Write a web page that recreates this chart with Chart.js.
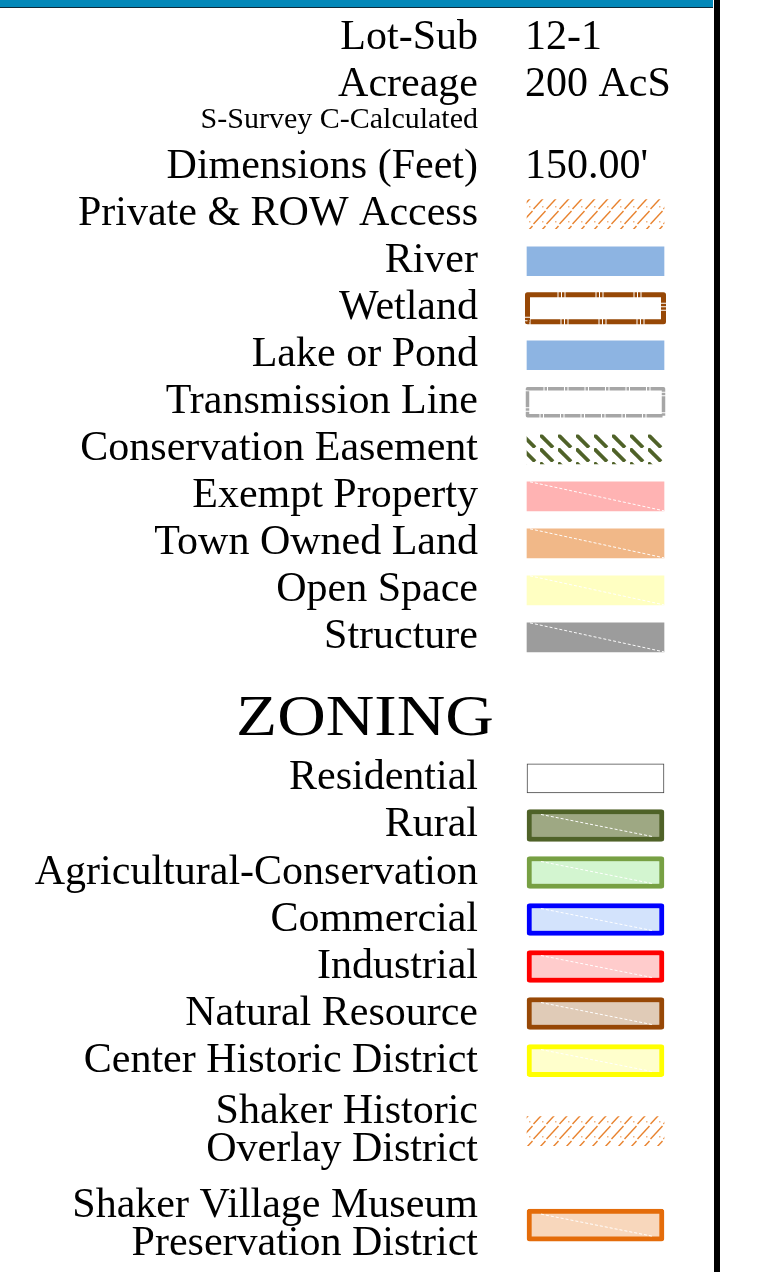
<!DOCTYPE html>
<html>
<head>
<meta charset="utf-8">
<script src="https://cdn.jsdelivr.net/npm/chart.js@4.4.1/dist/chart.umd.min.js"></script>
<style>
  html, body { margin: 0; padding: 0; background: #fff; }
  #wrap { position: relative; width: 762px; height: 1272px; overflow: hidden; }
  #c { position: absolute; left: 0; top: 0; }
  #topbar { position: absolute; left: 0; top: 0; width: 713px; height: 7px; background: #0388B9; border-bottom: 1px solid #0d2a3a; }
  #rightline { position: absolute; left: 714px; top: 0; width: 6px; height: 1272px; background: #000; }
</style>
</head>
<body>
<div id="wrap">
  <canvas id="c" width="762" height="1272"></canvas>
  <div id="topbar"></div>
  <div id="rightline"></div>
</div>
<script>
// ---------- DATA ----------
const gap = n => Array(n).fill('');

// legend rows (categories); '' entries are empty spacer rows
const categories = [
  'Lot-Sub', ...gap(3),
  'Acreage', ...gap(2),
  'S-Survey C-Calculated', ...gap(3),
  'Dimensions (Feet)', ...gap(3),
  'Private & ROW Access', ...gap(3),
  'River', ...gap(3),
  'Wetland', ...gap(3),
  'Lake or Pond', ...gap(3),
  'Transmission Line', ...gap(3),
  'Conservation Easement', ...gap(3),
  'Exempt Property', ...gap(3),
  'Town Owned Land', ...gap(3),
  'Open Space', ...gap(3),
  'Structure', ...gap(6),
  'ZONING', ...gap(4),
  'Residential', ...gap(3),
  'Rural', ...gap(3),
  'Agricultural-Conservation', ...gap(3),
  'Commercial', ...gap(3),
  'Industrial', ...gap(3),
  'Natural Resource', ...gap(3),
  'Center Historic District', ...gap(5),
  'Shaker Historic\nOverlay District', ...gap(7),
  'Shaker Village Museum\nPreservation District'
];

// text values shown in the right column
const valueRows  = ['Lot-Sub', 'Acreage', 'Dimensions (Feet)'];
const valueTexts = ['12-1', '200 AcS', "150.00'"];

// swatch rows (drawn as bars spanning 0..1)
const plainRows = ['Private & ROW Access', 'River', 'Wetland', 'Lake or Pond', 'Transmission Line',
  'Conservation Easement', 'Exempt Property', 'Town Owned Land', 'Open Space', 'Structure',
  'Residential', 'Shaker Historic\nOverlay District'];
const zoneRows = ['Rural', 'Agricultural-Conservation', 'Commercial', 'Industrial',
  'Natural Resource', 'Center Historic District', 'Shaker Village Museum\nPreservation District'];
const swatchSpan = [0, 1];

const headingRow = 'ZONING';
const smallRows = ['S-Survey C-Calculated'];

// ---------- STYLES ----------
const SERIF = "'Liberation Serif', 'Times New Roman', Times, serif";
const mainCtx = document.getElementById('c').getContext('2d');

function hatchPattern(color) {
  const t = document.createElement('canvas');
  t.width = 13; t.height = 15;
  const g = t.getContext('2d');
  g.strokeStyle = color; g.lineWidth = 1.4;
  g.beginPath(); g.moveTo(0.5, 14); g.lineTo(12.5, 1); g.stroke();
  g.fillStyle = color; g.globalAlpha = 0.6;
  g.fillRect(9, 11, 1.5, 1.5);
  return mainCtx.createPattern(t, 'repeat');
}
function easementPattern(color) {
  const t = document.createElement('canvas');
  t.width = 18; t.height = 14;
  const g = t.getContext('2d');
  g.strokeStyle = color; g.lineWidth = 3.8;
  g.beginPath(); g.moveTo(0, 0.5); g.lineTo(13, 13.5); g.stroke();
  return mainCtx.createPattern(t, 'repeat');
}

const fillColors = {
  'Private & ROW Access': hatchPattern('#E8822E'),
  'River': '#8DB4E2',
  'Wetland': '#FFFFFF',
  'Lake or Pond': '#8DB4E2',
  'Transmission Line': '#FFFFFF',
  'Conservation Easement': easementPattern('#4F6228'),
  'Exempt Property': '#FFB3B3',
  'Town Owned Land': '#F1B888',
  'Open Space': '#FFFFC2',
  'Structure': '#9C9C9C',
  'Residential': '#FFFFFF',
  'Shaker Historic\nOverlay District': hatchPattern('#E8822E'),
  'Rural': '#9EA883',
  'Agricultural-Conservation': '#D3F5D0',
  'Commercial': '#D3E3FC',
  'Industrial': '#FFCCCC',
  'Natural Resource': '#E0CBB7',
  'Center Historic District': '#FFFFCC',
  'Shaker Village Museum\nPreservation District': '#F8D7BC'
};
const borderColors = {
  'Residential': '#444444',
  'Rural': '#4F6228',
  'Agricultural-Conservation': '#77A043',
  'Commercial': '#0000FF',
  'Industrial': '#FF0000',
  'Natural Resource': '#974806',
  'Center Historic District': '#FFFF00',
  'Shaker Village Museum\nPreservation District': '#E46C0A'
};
const dashedBorders = {
  'Wetland': { color: '#974806', width: 5, dash: [30, 1, 2.5, 1, 2.5, 1] },
  'Transmission Line': { color: '#A6A6A6', width: 3.5, dash: [16, 1, 2.5, 1] }
};
const diagRows = ['Exempt Property', 'Town Owned Land', 'Open Space', 'Structure',
  'Rural', 'Agricultural-Conservation', 'Commercial', 'Industrial',
  'Natural Resource', 'Center Historic District', 'Shaker Village Museum\nPreservation District'];

// ---------- PLUGINS ----------
const extras = {
  id: 'extras',
  afterDatasetsDraw(chart) {
    const ctx = chart.ctx;
    chart.data.datasets.forEach((ds, di) => {
      const meta = chart.getDatasetMeta(di);
      meta.data.forEach((bar, i) => {
        if (ds.data[i] == null) return;
        const name = categories[i];
        const p = bar.getProps(['x', 'y', 'base', 'height'], true);
        const left = Math.min(p.base, p.x), right = Math.max(p.base, p.x);
        const top = p.y - p.height / 2, bottom = p.y + p.height / 2;
        if (diagRows.includes(name)) {
          const isZone = zoneRows.includes(name);
          const inset = isZone ? 5 : 0;
          ctx.save();
          ctx.strokeStyle = 'rgba(255,255,255,0.95)';
          ctx.lineWidth = 1;
          ctx.setLineDash([3, 2]);
          ctx.beginPath();
          ctx.moveTo(left + (isZone ? 14 : 3), top + inset);
          ctx.lineTo(right - (isZone ? 12 : 0), bottom - inset);
          ctx.stroke();
          ctx.restore();
        }
        const db = dashedBorders[name];
        if (db) {
          ctx.save();
          ctx.strokeStyle = db.color;
          ctx.lineWidth = db.width;
          ctx.setLineDash(db.dash);
          ctx.lineJoin = 'round';
          ctx.strokeRect(left + 0.5, top + 1, right - left - 1, bottom - top - 2);
          ctx.restore();
        }
      });
    });
  },
  afterDraw(chart) {
    const ctx = chart.ctx;
    const y = chart.scales.y, x = chart.scales.x;
    ctx.save();
    ctx.fillStyle = '#000';
    ctx.textBaseline = 'middle';
    ctx.textAlign = 'left';
    ctx.font = '42px ' + SERIF;
    valueRows.forEach((r, k) => {
      const idx = categories.indexOf(r);
      ctx.fillText(valueTexts[k], x.getPixelForValue(0) - 2, y.getPixelForTick(idx));
    });
    // heading
    const hi = categories.indexOf(headingRow);
    const hy = y.getPixelForTick(hi);
    ctx.translate(x.getPixelForValue(0) - 162, hy);
    ctx.scale(1.18, 1);
    ctx.textAlign = 'center';
    ctx.font = '57px ' + SERIF;
    ctx.fillText(headingRow, 0, 0);
    ctx.restore();
  }
};

// ---------- CHART ----------
const plainData = categories.map(c => plainRows.includes(c) ? swatchSpan : null);
const zoneData = categories.map(c => zoneRows.includes(c) ? swatchSpan : null);

new Chart(mainCtx, {
  type: 'bar',
  data: {
    labels: categories,
    datasets: [
      {
        label: 'Legend swatches',
        data: plainData,
        grouped: false,
        clip: false,
        barThickness: 29,
        backgroundColor: c => fillColors[categories[c.dataIndex]] || 'transparent',
        borderColor: c => borderColors[categories[c.dataIndex]] || 'transparent',
        borderWidth: c => borderColors[categories[c.dataIndex]] ? 1 : 0,
        borderSkipped: false
      },
      {
        label: 'Zoning swatches',
        data: zoneData,
        grouped: false,
        clip: false,
        barThickness: 32,
        backgroundColor: c => fillColors[categories[c.dataIndex]] || 'transparent',
        borderColor: c => borderColors[categories[c.dataIndex]] || 'transparent',
        borderWidth: 5,
        borderRadius: 3,
        borderSkipped: false
      }
    ]
  },
  options: {
    indexAxis: 'y',
    responsive: false,
    animation: false,
    devicePixelRatio: 1,
    layout: { padding: { left: 0, right: 98, top: 32, bottom: 41 } },
    plugins: { legend: { display: false }, tooltip: { enabled: false } },
    scales: {
      x: { type: 'linear', min: 0, max: 1, display: false },
      y: {
        type: 'category',
        offset: true,
        grid: { display: false, drawTicks: false },
        border: { display: false },
        afterFit: s => {
          s.width = 527;
          s.paddingTop = 0; s.paddingBottom = 0;
          s.paddingLeft = 0; s.paddingRight = 0;
        },
        ticks: {
          autoSkip: false,
          padding: 49,
          color: '#000',
          font: c => {
            const name = categories[c.index] || '';
            if (smallRows.includes(name)) return { family: SERIF, size: 30 };
            if (name.includes('\n')) return { family: SERIF, size: 42, lineHeight: 0.89 };
            return { family: SERIF, size: 42 };
          },
          callback: (v, i) => {
            const name = categories[i];
            if (!name || name === headingRow) return '';
            return name.includes('\n') ? name.split('\n') : name;
          }
        }
      }
    }
  },
  plugins: [extras]
});
</script>
</body>
</html>
